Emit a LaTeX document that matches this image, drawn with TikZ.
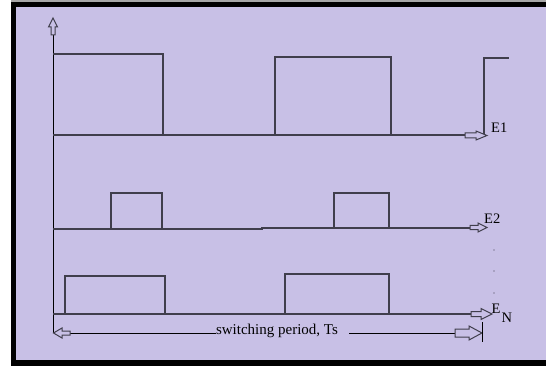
\documentclass[tikz,border=0pt]{standalone}
\usepackage{fontspec}
\setmainfont{Liberation Serif}
\definecolor{lav}{RGB}{200,192,230}
\definecolor{wave}{RGB}{64,62,76}
\begin{document}
\begin{tikzpicture}[x=1pt,y=-1pt,
  wv/.style={draw=wave,line width=1.3pt},
  ax/.style={draw=black,line width=1pt},
  harrow/.style={draw=wave,line width=1pt,fill=lav},
  lbl/.style={inner sep=0pt,font=\fontsize{14.5}{14.5}\selectfont}]
\useasboundingbox (0,0) rectangle (546,366);
\fill[white] (0,0) rectangle (546,366);
\fill[gray!70] (11,0) rectangle (546,2);
\fill[black] (11,2) rectangle (546,366);
\fill[lav] (16,7) rectangle (546,360);
% vertical axis
\draw[ax] (53,35) -- (53,333);
\draw[harrow] (51,35) -- (51,27) -- (48.5,27) -- (53,18) -- (57.5,27) -- (55,27) -- (55,35) -- cycle;
% E1
\draw[wv] (53,135) -- (465,135);
\draw[wv] (53,54) -- (163,54) -- (163,135);
\draw[wv] (275,135) -- (275,57) -- (391,57) -- (391,135);
\draw[wv] (484,135) -- (484,58) -- (509,58);
\draw[harrow] (465,133) -- (476,133) -- (476,131) -- (487,135.5) -- (476,140) -- (476,138) -- (465,138) -- cycle;
\node[lbl,anchor=west] (e1) at (491,128) {E1};
% E2
\draw[wv] (53,229) -- (262,229) -- (262,228) -- (470,228);
\draw[wv] (111,229) -- (111,193) -- (162,193) -- (162,229);
\draw[wv] (334,228) -- (334,193) -- (389,193) -- (389,228);
\draw[harrow] (470,225.5) -- (478,225.5) -- (478,223) -- (487,227.5) -- (478,232) -- (478,229.5) -- (470,229.5) -- cycle;
\node[lbl,anchor=west] (e2) at (484,219) {E2};
% dots
\foreach \yy in {250,271,293} \fill[wave] (494,\yy) circle (0.7);
% EN
\draw[wv] (53,314) -- (471,314);
\draw[wv] (65,314) -- (65,276) -- (165,276) -- (165,314);
\draw[wv] (285,314) -- (285,274) -- (389,274) -- (389,314);
\draw[harrow] (471,311.5) -- (481,311.5) -- (481,308.5) -- (492,314) -- (481,319.5) -- (481,316.5) -- (471,316.5) -- cycle;
\node[lbl,anchor=west] (en) at (491.5,309) {E};
\node[lbl,anchor=west] (enn) at (501.5,318) {N};
% switching period
\node[lbl,font=\fontsize{15}{15}\selectfont] (sp) at (277,331) {switching period, Ts};
\coordinate (la) at (70,333);
\coordinate (ra) at (455,333);
\draw[ax] (la) -- (sp.west |- la);
\draw[ax] ([xshift=11pt]sp.east |- ra) -- (ra);
\draw[harrow] (70,331) -- (62,331) -- (62,328) -- (53.5,333) -- (62,338) -- (62,335) -- (70,335) -- cycle;
\draw[harrow] (455,329) -- (469,329) -- (469,326) -- (482,333) -- (469,340) -- (469,337) -- (455,337) -- cycle;
\draw[ax] (482,322) -- (482,342);
\end{tikzpicture}
\end{document}
